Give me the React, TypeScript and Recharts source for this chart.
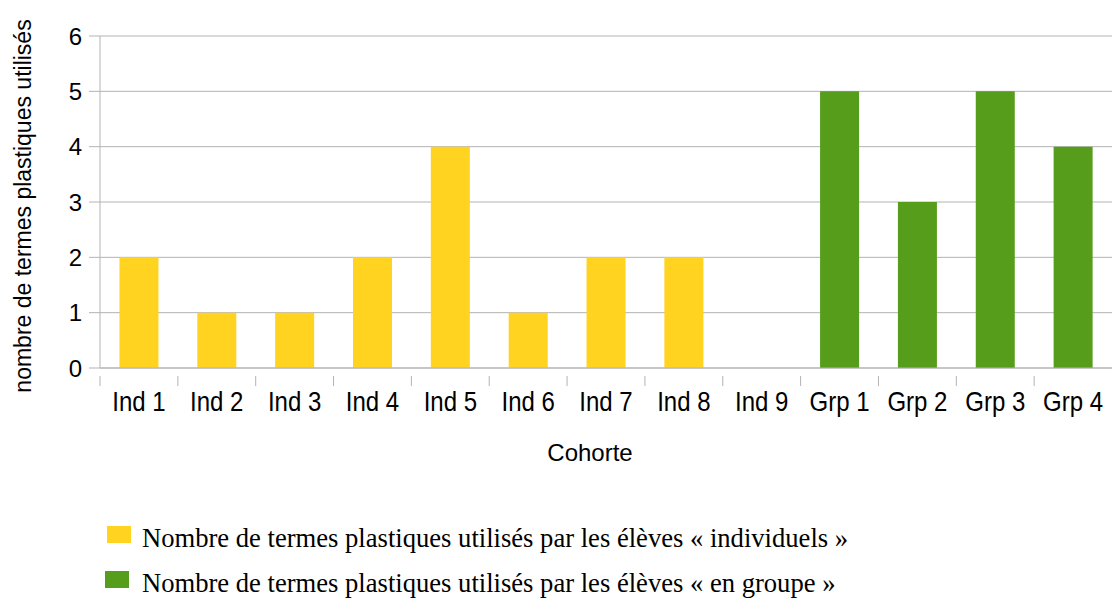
import React from "react";
import { BarChart, Bar, XAxis, YAxis, CartesianGrid, Label } from "recharts";

const categories = ["Ind 1", "Ind 2", "Ind 3", "Ind 4", "Ind 5", "Ind 6", "Ind 7", "Ind 8", "Ind 9", "Grp 1", "Grp 2", "Grp 3", "Grp 4"];
const individualValues: (number | null)[] = [2, 1, 1, 2, 4, 1, 2, 2, 0, null, null, null, null];
const groupValues: (number | null)[] = [null, null, null, null, null, null, null, null, null, 5, 3, 5, 4];
const yTicks = [0, 1, 2, 3, 4, 5, 6];

const seriesNames = {
  ind: "Nombre de termes plastiques utilisés par les élèves « individuels »",
  grp: "Nombre de termes plastiques utilisés par les élèves « en groupe »",
};
const colors = { ind: "#FFD320", grp: "#579D1C" };

const data = categories.map((c, i) => ({
  name: c,
  ind: individualValues[i],
  grp: groupValues[i],
}));

const SANS = "'Liberation Sans', Arial, sans-serif";
const SERIF = "'Liberation Serif', 'Times New Roman', serif";
const GRID = "#b3b3b3";

const XTick = (props: any) => {
  const { x, y, payload, width, visibleTicksCount } = props;
  const catW = width / visibleTicksCount;
  const left = x - catW / 2;
  const by = y + 35;
  return (
    <g>
      <line x1={left} x2={left} y1={y} y2={y + 10} stroke={GRID} strokeWidth={1} />
      <text
        x={0}
        y={0}
        transform={`translate(${x}, ${by}) scale(1, 1.13)`}
        textAnchor="middle"
        fontFamily={SANS}
        fontSize={24}
        fill="#000"
      >
        {payload.value}
      </text>
    </g>
  );
};

const YTitle = (props: any) => {
  const vb = props.viewBox;
  const cx = vb.x + 31;
  const cy = vb.y + vb.height / 2 + 4;
  return (
    <text x={cx} y={cy} transform={`rotate(-90, ${cx}, ${cy})`} textAnchor="middle" fontFamily={SANS} fontSize={23} fill="#000">
      nombre de termes plastiques utilisés
    </text>
  );
};

const XTitle = (props: any) => {
  const vb = props.viewBox;
  const cx = vb.x + vb.width / 2 - 16;
  const cy = vb.y + 93;
  return (
    <text x={cx} y={cy} textAnchor="middle" fontFamily={SANS} fontSize={24} fill="#000">
      Cohorte
    </text>
  );
};

const legendItems = [
  { key: "ind", name: seriesNames.ind, color: colors.ind },
  { key: "grp", name: seriesNames.grp, color: colors.grp },
];

export default function App() {
  return (
    <div style={{ position: "absolute", left: 0, top: 0, width: 1112, height: 599, background: "#fff", overflow: "hidden" }}>
      <BarChart
        width={1112}
        height={599}
        data={data}
        margin={{ top: 36, right: 0, bottom: 151, left: 0 }}
        barCategoryGap="25%"
      >
        <CartesianGrid vertical={false} stroke={GRID} strokeWidth={1} />
        <XAxis
          dataKey="name"
          height={80}
          axisLine={{ stroke: GRID }}
          tickLine={false}
          tick={<XTick />}
          interval={0}
        >
          <Label content={<XTitle />} />
        </XAxis>
        <YAxis
          width={100}
          domain={[0, 6]}
          ticks={yTicks}
          interval={0}
          tickSize={11}
          tickMargin={7}
          axisLine={{ stroke: GRID }}
          tickLine={{ stroke: GRID }}
          tick={{ fontFamily: SANS, fontSize: 24, fill: "#000" }}
        >
          <Label content={<YTitle />} />
        </YAxis>
        <Bar dataKey="ind" name={seriesNames.ind} stackId="a" fill={colors.ind} isAnimationActive={false} />
        <Bar dataKey="grp" name={seriesNames.grp} stackId="a" fill={colors.grp} isAnimationActive={false} />
      </BarChart>
      {legendItems.map((it, i) => (
        <div
          key={it.key}
          style={{
            position: "absolute",
            left: i === 0 ? 107 : 105,
            top: i === 0 ? 525 : 570,
            height: 26,
            display: "flex",
            alignItems: "flex-start",
            whiteSpace: "nowrap",
          }}
        >
          <div style={{ width: 24, height: 17, background: it.color, marginTop: 1, marginRight: i === 0 ? 11 : 13 }} />
          <span style={{ fontFamily: SERIF, fontSize: 26.6, lineHeight: "26px", color: "#000" }}>{it.name}</span>
        </div>
      ))}
    </div>
  );
}
